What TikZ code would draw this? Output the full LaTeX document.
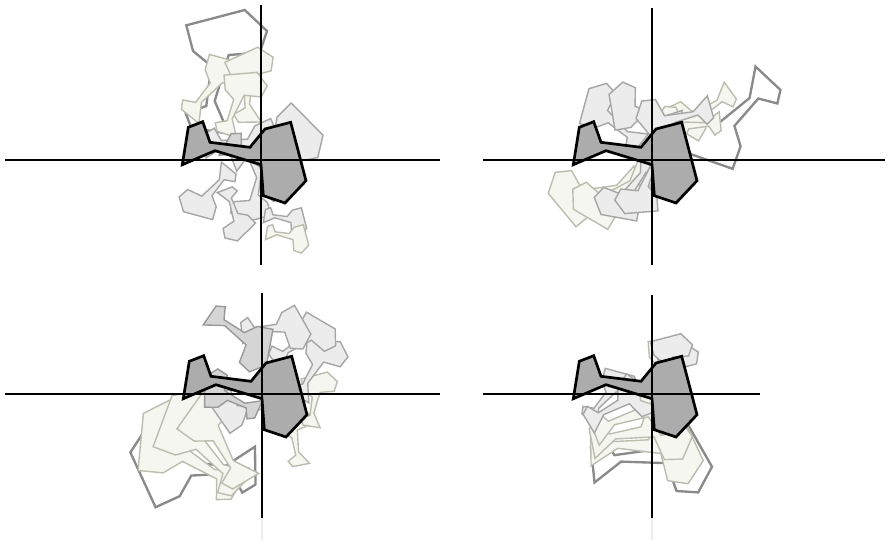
\documentclass[tikz,border=0pt]{standalone}
\usepackage{tikz}

\definecolor{paleline}{RGB}{188,188,175}
\definecolor{palefill}{RGB}{246,246,240}
\definecolor{midline}{RGB}{138,138,138}
\definecolor{meanfill}{RGB}{172,172,172}

\tikzset{
  meanpic/.pic={
    \draw[pic actions] (-61.7,4.7) -- (-55.7,-32.7) -- (-41.3,-38.3) -- (-34,-17.7)
      -- (6,-12.7) -- (21,-31) -- (46.7,-37.7) -- (62,20.7) -- (41,43)
      -- (19.3,35.7) -- (17,4.7) -- (-29,-9.3) -- cycle;
  },
  faint/.style={draw=paleline,line width=1.2pt,fill=palefill},
  shade/.style={draw=gray!80,line width=1.2pt,fill=gray!33},
  light/.style={draw=gray!70,line width=1.2pt,fill=gray!15},
  outer/.style={draw=midline,line width=2pt,fill=white},
  mean/.style={draw=black,line width=2.3pt,fill=meanfill},
  axis/.style={line width=1.6pt}
}

\begin{document}
\begin{tikzpicture}[x=0.3mm,y=-0.3mm]
\useasboundingbox (0,0) rectangle (887,540);

% top left
\pic[outer,rotate=90] at (224,72) {meanpic};
\pic[faint,rotate=60,scale=0.6] at (215,90) {meanpic};
\pic[faint,rotate=100,scale=0.6] at (252,86) {meanpic};
\pic[faint,rotate=80,scale=0.55] at (240,104) {meanpic};
\pic[light,rotate=-90,scale=0.5] at (252,192) {meanpic};
\pic[light,rotate=30,scale=0.75] at (275,145) {meanpic};
\pic[light,rotate=10,scale=0.65] at (245,148) {meanpic};
\pic[shade,rotate=-20,scale=0.65] at (258,166) {meanpic};
\pic[light,rotate=-120,scale=0.5] at (208,190) {meanpic};
\pic[light,rotate=-60,scale=0.42] at (232,214) {meanpic};
\pic[light,scale=0.35] at (285,221) {meanpic};
\pic[faint,scale=0.35] at (287,238) {meanpic};

% top right
\pic[outer,rotate=-124,scale=0.9] at (728,115) {meanpic};
\pic[faint,rotate=-155,scale=0.72] at (595,188) {meanpic};
\pic[faint,rotate=-135,scale=0.66] at (612,190) {meanpic};
\pic[light,rotate=-115,scale=0.6] at (628,186) {meanpic};
\pic[light,rotate=-100,scale=0.55] at (642,182) {meanpic};
\pic[faint,rotate=-135,scale=0.55] at (702,108) {meanpic};
\pic[faint,rotate=-165,scale=0.5] at (690,122) {meanpic};
\pic[light,rotate=150,scale=0.6] at (615,118) {meanpic};
\pic[light,rotate=175,scale=0.6] at (645,110) {meanpic};
\pic[light,rotate=-155,scale=0.6] at (675,114) {meanpic};

% bottom left
\pic[outer,rotate=190] at (195,462) {meanpic};
\pic[faint,rotate=160,scale=0.95] at (192,452) {meanpic};
\pic[faint,rotate=145,scale=0.9] at (207,443) {meanpic};
\pic[faint,rotate=130,scale=0.8] at (224,438) {meanpic};
\pic[faint,rotate=110,scale=0.45] at (298,438) {meanpic};
\pic[faint,rotate=90,scale=0.45] at (318,400) {meanpic};
\pic[light,rotate=70,scale=0.55] at (318,370) {meanpic};
\pic[light,rotate=45,scale=0.55] at (303,345) {meanpic};
\pic[light,rotate=15,scale=0.55] at (275,332) {meanpic};
\pic[shade,rotate=-25,scale=0.6] at (238,338) {meanpic};
\pic[light,rotate=200,scale=0.55] at (247,405) {meanpic};
\pic[shade,rotate=165,scale=0.5] at (232,395) {meanpic};

% bottom right
\pic[outer,rotate=15,scale=0.95] at (650,463) {meanpic};
\pic[faint,rotate=10,scale=0.9] at (645,452) {meanpic};
\pic[faint,rotate=20,scale=0.8] at (640,438) {meanpic};
\pic[faint,rotate=30,scale=0.72] at (636,420) {meanpic};
\pic[light,rotate=60,scale=0.5] at (610,398) {meanpic};
\pic[light,rotate=40,scale=0.58] at (620,408) {meanpic};
\pic[faint,rotate=80,scale=0.58] at (665,372) {meanpic};
\pic[light,rotate=100,scale=0.52] at (680,377) {meanpic};
\pic[light,rotate=90,scale=0.52] at (670,366) {meanpic};

% mean shapes
\pic[mean] at (244,160) {meanpic};
\pic[mean] at (635,160) {meanpic};
\pic[mean] at (245,394) {meanpic};
\pic[mean] at (635,394) {meanpic};

% axes
\draw[axis] (5,160) -- (440,160);
\draw[axis] (261,5) -- (261,265);
\draw[axis] (483,160) -- (885,160);
\draw[axis] (652,8) -- (652,265);
\draw[axis] (5,394) -- (440,394);
\draw[axis] (262,293) -- (262,518);
\draw[axis] (483,394) -- (760,394);
\draw[axis] (652,295) -- (652,518);
\draw[gray!15,line width=1.6pt] (262,518) -- (262,540);
\draw[gray!15,line width=1.6pt] (652,518) -- (652,540);
\end{tikzpicture}
\end{document}
